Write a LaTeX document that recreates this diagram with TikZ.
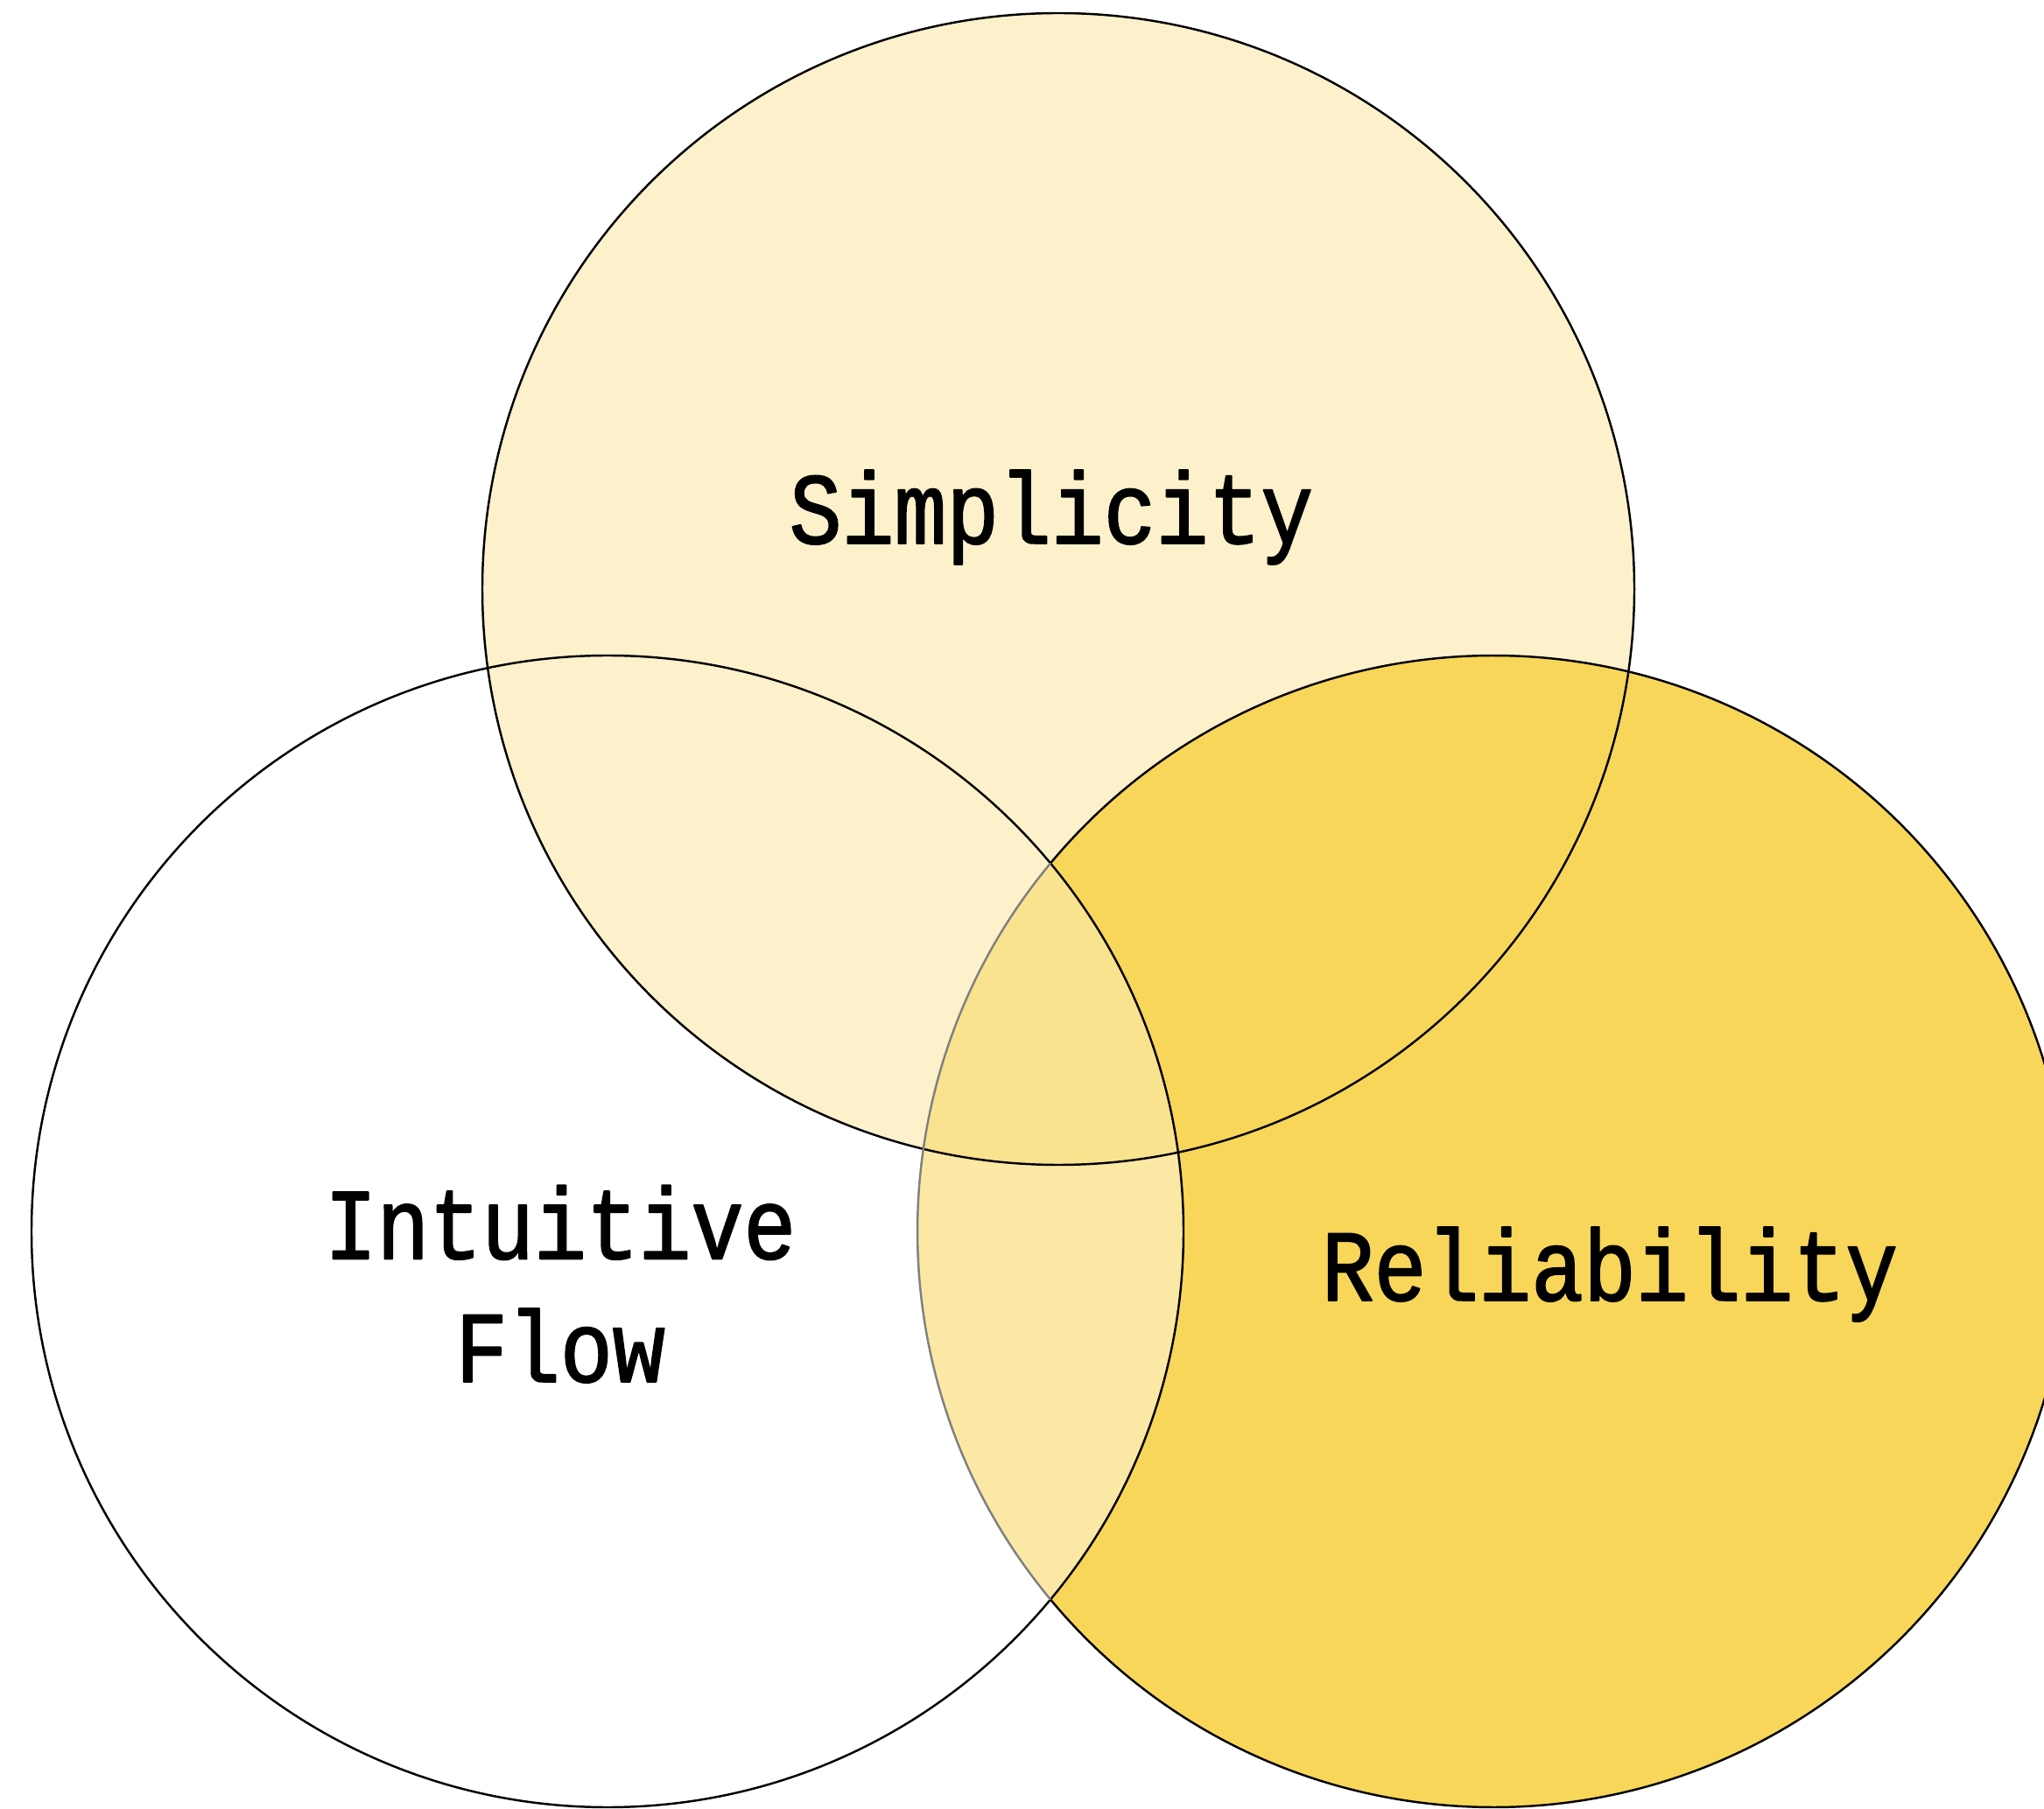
\documentclass[tikz,border=0pt]{standalone}
\usepackage{fontspec}
\newfontfamily\labelfont[FakeStretch=0.86,FakeBold=1.6]{Liberation Mono}
\usetikzlibrary{calc}
\definecolor{cream}{HTML}{FDF1CC}
\definecolor{gold}{HTML}{F8D65A}
\definecolor{palegold}{HTML}{FBE8A5}
\definecolor{midgold}{HTML}{F9E38F}

\begin{document}
\begin{tikzpicture}[line join=round, line cap=round, line width=0.7pt,
  lbl/.style={inner sep=0pt, anchor=base, align=center,
    font=\labelfont\fontsize{33}{40}\selectfont}]
\useasboundingbox (0,0) rectangle (23.35,20.66);
\coordinate (S) at (12.09,13.93);
\coordinate (I) at (6.94,6.59);
\coordinate (R) at (17.06,6.59);
% region fills
\fill[cream] (S) circle (6.58);
\fill[gold] (R) circle (6.58);
\begin{scope}
\clip (I) circle (6.58);
\fill[palegold] (R) circle (6.58);
\clip (S) circle (6.58);
\fill[midgold] (R) circle (6.58);
\end{scope}
% outlines, the part of R inside I is grey
\draw (S) circle (6.58) (I) circle (6.58);
\draw ($(R)+(219.7:6.58)$) arc (219.7:500.3:6.58);
\draw[black!50] ($(R)+(140.3:6.58)$) arc (140.3:219.7:6.58);
% labels
\node[lbl] (simplicity) at (12.01,14.45) {Simplicity};
\node[lbl] (intuitive) at (6.40,4.87) {Intuitive\\Flow};
\node[lbl] (reliability) at (18.39,5.80) {Reliability};
\end{tikzpicture}
\end{document}
